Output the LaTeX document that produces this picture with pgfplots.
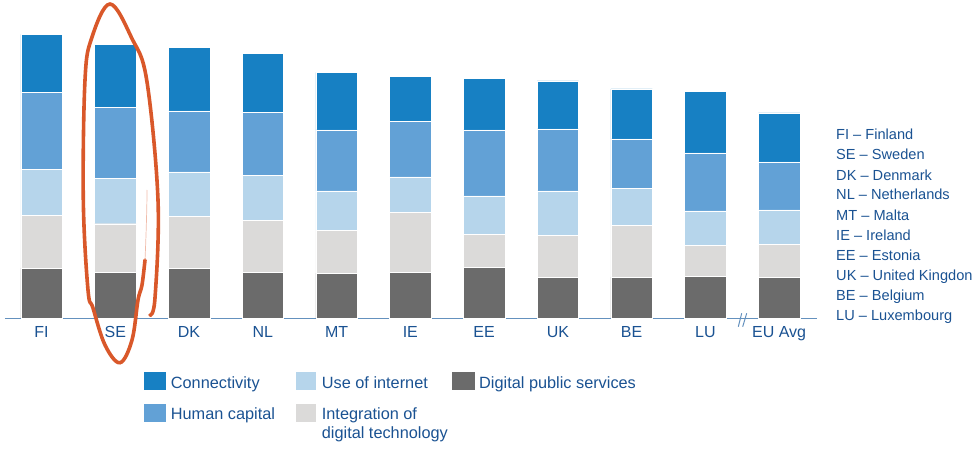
\documentclass[border=0pt]{standalone}
\usepackage{pgfplots}
\pgfplotsset{compat=1.18}
\usepackage{pgfplotstable}
\usepackage{fontspec}
\setmainfont{Liberation Sans}
\definecolor{conn}{RGB}{23,128,195}
\definecolor{hcap}{RGB}{98,161,214}
\definecolor{useint}{RGB}{182,213,235}
\definecolor{integ}{RGB}{219,218,217}
\definecolor{dps}{RGB}{107,107,107}
\definecolor{txtblue}{RGB}{26,82,146}
\definecolor{axblue}{RGB}{100,145,190}
\definecolor{pen}{RGB}{217,88,42}
% x, digital public services, integration, use of internet, human capital, connectivity
\pgfplotstableread{
x dps int use hc conn
0 50.5 53.0 45.7 77.0 58.0
1 46.5 48.3 45.4 70.6 63.4
2 50.5 52.0 44.0 61.0 63.7
3 46.5 52.0 44.3 63.0 59.4
4 45.5 43.0 39.0 61.0 57.7
5 46.5 59.7 35.3 55.7 45.0
6 51.5 33.0 38.0 66.0 51.3
7 41.5 41.7 44.3 62.0 48.0
8 41.5 52.0 36.7 49.3 50.0
9 42.5 30.7 34.3 58.0 61.7
10 41.5 33.0 34.0 48.0 49.0
}\desi
\begin{document}
\begin{tikzpicture}[x=1pt,y=1pt]
\useasboundingbox (0,0) rectangle (975,448);
\begin{axis}[
  at={(5pt,129.5pt)}, anchor=south west,
  scale only axis, width=812pt, height=318.5pt,
  xmin=-0.495, xmax=10.513, ymin=0, ymax=318.5,
  ybar stacked, bar width=41.5pt,
  axis y line=none, axis x line*=bottom,
  x axis line style={draw=axblue, line width=1.4pt},
  xtick={0,...,10},
  xticklabels={FI,SE,DK,NL,MT,IE,EE,UK,BE,LU,EU Avg},
  major tick length=0pt,
  xticklabel style={font=\fontsize{16}{16}\selectfont, text=txtblue, inner sep=0pt, yshift=-8pt},
  clip=false,
]
\addplot[fill=dps, draw=white, line width=0.4pt] table[x=x,y=dps]{\desi};
\addplot[fill=integ, draw=white, line width=0.4pt] table[x=x,y=int]{\desi};
\addplot[fill=useint, draw=white, line width=0.4pt] table[x=x,y=use]{\desi};
\addplot[fill=hcap, draw=white, line width=0.4pt] table[x=x,y=hc]{\desi};
\addplot[fill=conn, draw=white, line width=0.4pt] table[x=x,y=conn]{\desi};
\end{axis}
% axis break mark
\draw[axblue, line width=1pt] (738.3,121.3) -- (741.7,134.7);
\draw[axblue, line width=1pt] (742.7,121.3) -- (746.7,134.7);
% hand-drawn highlight round SE
\draw[pen, line width=3.6pt, line cap=round] plot[smooth, tension=0.6] coordinates {
  (150,133) (155,150) (158,248) (146.7,368) (131.7,410) (110,444) (91.7,410) (85,368)
  (83.3,248) (88,158) (93,140) (105,103) (120,85.3) (132,108) (138,148) (142,163) (145,188)};
\draw[pen!40, line width=0.7pt] (145,188) .. controls (146,210) and (147,240) .. (147,258);
% country key
\begin{scope}[every node/.style={anchor=base west, inner sep=0pt, text=txtblue, font=\fontsize{14.6}{14.6}\selectfont}]
\node at (836,308) {FI -- Finland};
\node at (836,288) {SE -- Sweden};
\node at (836,268) {DK -- Denmark};
\node at (836,248) {NL -- Netherlands};
\node at (836,228) {MT -- Malta};
\node at (836,208) {IE -- Ireland};
\node at (836,188) {EE -- Estonia};
\node at (836,168) {UK -- United Kingdon};
\node at (836,148) {BE -- Belgium};
\node at (836,128) {LU -- Luxembourg};
\end{scope}
% legend
\fill[conn] (144,57.7) rectangle (166,75.7);
\fill[hcap] (144,26.3) rectangle (166,44);
\fill[useint] (295.7,57.7) rectangle (316,75.7);
\fill[integ] (295.7,26.3) rectangle (316,44);
\fill[dps] (452,57.7) rectangle (474.7,75.7);
\begin{scope}[every node/.style={anchor=base west, inner sep=0pt, text=txtblue, font=\fontsize{16.3}{16.3}\selectfont}]
\node at (170.7,60) {Connectivity};
\node at (170.7,28.7) {Human capital};
\node at (321.7,60) {Use of internet};
\node at (321.7,28.7) {Integration of};
\node at (321.7,10) {digital technology};
\node at (479,60) {Digital public services};
\end{scope}
\end{tikzpicture}
\end{document}
